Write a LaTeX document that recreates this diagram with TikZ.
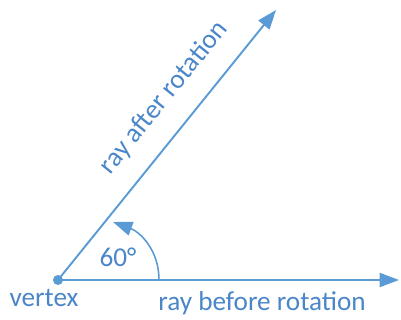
\documentclass[tikz,border=0pt]{standalone}
\usepackage{fontspec}
\setmainfont{Carlito}
\usetikzlibrary{arrows.meta, positioning}
\definecolor{Ray_Blue}{HTML}{5B9BD5}
\definecolor{Text_Blue}{HTML}{4A86C8}

\begin{document}
\begin{tikzpicture}[
    x=0.02cm, y=0.02cm,
    ray/.style={draw=Ray_Blue, line width=1.1pt, -{Triangle[length=11pt, width=8pt]}},
    lbl/.style={text=Text_Blue, font=\fontsize{15.5}{18}\selectfont, inner sep=0pt}
]
\useasboundingbox (0,0) rectangle (401,320);

% Points
\coordinate (vertex) at (58,40);
\coordinate (before) at (399,40);
\coordinate (after) at (276,310);
\coordinate (arcstart) at (159,40);
\coordinate (arcend) at (113,98);

% Rays
\draw[ray] (vertex) -- (before);
\draw[ray] (vertex) -- (after);
\fill[Ray_Blue] (vertex) circle (5);

% Angle arc
\draw[ray, line width=0.9pt] (arcstart) .. controls (159,70) and (140,88) .. (arcend);

% Labels
\node[lbl] (vlabel) at (44,22) {vertex};
\node[lbl] (blabel) at (262,17) {ray before rotation};
\node[lbl] (angle) at (118,63) {60°};
\node[lbl, rotate=51] (alabel) at (164,222) {ray after rotation};

\end{tikzpicture}
\end{document}
